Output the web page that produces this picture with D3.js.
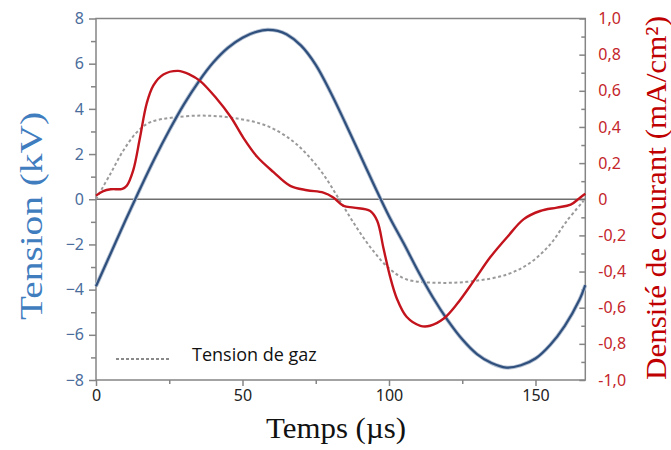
<!DOCTYPE html>
<html>
<head>
<meta charset="utf-8">
<script src="https://cdn.jsdelivr.net/npm/d3@7"></script>
<style>
    body { margin: 0; background: #fff; }
    svg { display: block; }
</style>
</head>
<body>
<div id="main-content-container"><svg></svg></div>
<script>
// Tension (kV), applied voltage
tensionTime = [0, 5, 10, 15, 20, 25, 30, 35, 40, 45, 50, 55, 58.5, 62, 65, 70, 75, 80, 85, 90, 95,
    100, 105, 110, 115, 120, 125, 130, 135, 140, 145, 150, 155, 160, 165, 167];
tensionValues = [-3.85, -2.4, -0.95, 0.45, 1.8, 3.05, 4.2, 5.2, 6.05, 6.7, 7.15, 7.42, 7.5, 7.45, 7.3,
    6.8, 5.95, 4.75, 3.4, 2.0, 0.6, -0.75, -1.95, -3.2, -4.35, -5.35, -6.2, -6.85, -7.25, -7.45,
    -7.35, -7.05, -6.45, -5.6, -4.45, -3.8];

// Densité de courant (mA/cm2)
currentTime = [0, 2.5, 5, 9, 10.5, 12.7, 15, 17.3, 19.6, 23, 28, 32, 35.5, 41, 46, 50.3, 55, 60.6,
    66.3, 72, 77.6, 81, 84.5, 88, 93.6, 96, 98.1, 100.4, 102.7, 106, 110.7, 114, 118.7, 123.2, 129,
    134.6, 140.3, 146, 151.6, 157.3, 162, 165.3, 167];
currentValues = [0.02, 0.045, 0.055, 0.058, 0.075, 0.16, 0.34, 0.53, 0.63, 0.69, 0.71, 0.69, 0.655,
    0.56, 0.455, 0.34, 0.235, 0.15, 0.074, 0.05, 0.037, 0.01, -0.037, -0.046, -0.065, -0.12, -0.27,
    -0.43, -0.55, -0.65, -0.70, -0.70, -0.66, -0.58, -0.45, -0.32, -0.21, -0.11, -0.065, -0.046,
    -0.03, 0.01, 0.03];

// Tension de gaz (kV)
gasTime = [0, 4.8, 9.3, 13.9, 18.4, 26.4, 37.8, 49.2, 58.3, 66.3, 71.9, 77.6, 83.3, 89, 94.7,
    100.4, 106.1, 117.5, 128.9, 140.3, 148.2, 155, 160.7, 166.4];
gasValues = [0, 1.1, 2.15, 2.96, 3.4, 3.62, 3.7, 3.55, 3.25, 2.66, 2.0, 1.1, -0.07, -1.26, -2.3,
    -3.1, -3.55, -3.7, -3.62, -3.33, -2.81, -2.0, -0.96, -0.07];

// ticks
timeTicks = [0, 50, 100, 150];
timeMinorTicks = [25, 75, 125];
tensionTicks = [8, 6, 4, 2, 0, -2, -4, -6, -8];
tensionMinorTicks = [7, 5, 3, 1, -1, -3, -5, -7];
currentTicks = [1.0, 0.8, 0.6, 0.4, 0.2, 0, -0.2, -0.4, -0.6, -0.8, -1.0];
currentTickLabels = ["1,0", "0,8", "0,6", "0,4", "0,2", "0", "-0,2", "-0,4", "-0,6", "-0,8", "-1,0"];
currentMinorTicks = [0.9, 0.7, 0.5, 0.3, 0.1, -0.1, -0.3, -0.5, -0.7, -0.9];

function buildChart() {
    let width = 671,
        height = 450;
    let left = 96, right = 585.3, top = 18.5, bottom = 380;

    let svg = d3.select("#main-content-container").select("svg")
        .attr("width", width)
        .attr("height", height);

    let x = d3.scaleLinear().domain([0, 167]).range([left, right]);
    let yKV = d3.scaleLinear().domain([-8, 8]).range([bottom, top]);
    let yJ = d3.scaleLinear().domain([-1, 1]).range([bottom, top]);

    let tickFont = "'Noto Sans', 'Open Sans', sans-serif";
    let axisGrey = "#858585";

    // bottom axis
    let gx = svg.append("g").attr("transform", "translate(0," + bottom + ")");
    gx.call(d3.axisBottom(x).tickValues(timeTicks).tickSize(6).tickPadding(4).tickFormat(d3.format("d")));
    gx.append("g").call(d3.axisBottom(x).tickValues(timeMinorTicks).tickSize(4).tickFormat(""));
    gx.selectAll(".domain").remove();
    gx.selectAll("line").attr("stroke", axisGrey).attr("stroke-width", 1.5);
    gx.selectAll("text").attr("fill", "#222").style("font-family", tickFont).style("font-size", "16px");

    // left axis
    let gl = svg.append("g").attr("transform", "translate(" + left + ",0)");
    gl.call(d3.axisLeft(yKV).tickValues(tensionTicks).tickSize(7).tickPadding(5).tickFormat(d3.format("d")));
    gl.append("g").call(d3.axisLeft(yKV).tickValues(tensionMinorTicks).tickSize(5).tickFormat(""));
    gl.selectAll(".domain").remove();
    gl.selectAll("line").attr("stroke", axisGrey).attr("stroke-width", 1.5);
    gl.selectAll("text").attr("fill", "#4b6d9c").style("font-family", tickFont).style("font-size", "16px");

    // right axis, ticks point inward
    let gr = svg.append("g").attr("transform", "translate(" + right + ",0)");
    gr.call(d3.axisRight(yJ).tickValues(currentTicks).tickSize(-6).tickPadding(13)
        .tickFormat((d, i) => currentTickLabels[i]));
    gr.append("g").call(d3.axisRight(yJ).tickValues(currentMinorTicks).tickSize(-4).tickFormat(""));
    gr.selectAll(".domain").remove();
    gr.selectAll("line").attr("stroke", axisGrey).attr("stroke-width", 1.5);
    gr.selectAll("text").attr("fill", "#c4262b").style("font-family", tickFont).style("font-size", "16px");

    // frame
    svg.append("rect")
        .attr("x", left).attr("y", top)
        .attr("width", right - left).attr("height", bottom - top)
        .attr("fill", "none")
        .attr("stroke", axisGrey)
        .attr("stroke-width", 1.5);

    // zero line
    svg.append("line")
        .attr("x1", left).attr("x2", right)
        .attr("y1", yKV(0)).attr("y2", yKV(0))
        .attr("stroke", "#6e6e6e")
        .attr("stroke-width", 1.5);

    let gasLine = d3.line().x((d, i) => x(gasTime[i])).y(d => yKV(d)).curve(d3.curveCatmullRom.alpha(0.5));
    let tensionLine = d3.line().x((d, i) => x(tensionTime[i])).y(d => yKV(d)).curve(d3.curveCatmullRom.alpha(0.5));
    let currentLine = d3.line().x((d, i) => x(currentTime[i])).y(d => yJ(d)).curve(d3.curveCatmullRom.alpha(0.5));

    svg.append("path")
        .attr("d", gasLine(gasValues))
        .attr("fill", "none")
        .attr("stroke", "#9a9a9a")
        .attr("stroke-width", 2)
        .attr("stroke-dasharray", "3,2.5");

    // soft halo under the voltage curve
    svg.append("path")
        .attr("d", tensionLine(tensionValues))
        .attr("fill", "none")
        .attr("stroke", "#b7c3d4")
        .attr("stroke-width", 4);
    svg.append("path")
        .attr("d", tensionLine(tensionValues))
        .attr("fill", "none")
        .attr("stroke", "#2f4f7d")
        .attr("stroke-width", 2.2);

    svg.append("path")
        .attr("d", currentLine(currentValues))
        .attr("fill", "none")
        .attr("stroke", "#c3141d")
        .attr("stroke-width", 2.4);

    // legend
    svg.append("line")
        .attr("x1", 116).attr("x2", 170)
        .attr("y1", 359).attr("y2", 359)
        .attr("stroke", "#8a8a8a")
        .attr("stroke-width", 1.8)
        .attr("stroke-dasharray", "3,2");
    svg.append("text")
        .attr("x", 192).attr("y", 361)
        .attr("fill", "#111")
        .style("font-family", "'Open Sans', sans-serif")
        .style("font-size", "18px")
        .text("Tension de gaz");

    // axis titles
    let serif = "'Liberation Serif', 'DejaVu Serif', serif";
    svg.append("text")
        .attr("transform", "translate(42,216) rotate(-90)")
        .attr("text-anchor", "middle")
        .attr("fill", "#3f7dbf")
        .style("font-family", serif)
        .style("font-size", "31px")
        .attr("textLength", 208)
        .attr("lengthAdjust", "spacingAndGlyphs")
        .text("Tension (kV)");

    svg.append("text")
        .attr("transform", "translate(666,198) rotate(-90)")
        .attr("text-anchor", "middle")
        .attr("fill", "#c00000")
        .style("font-family", serif)
        .style("font-size", "30px")
        .attr("textLength", 364)
        .attr("lengthAdjust", "spacingAndGlyphs")
        .text("Densité de courant (mA/cm²)");

    svg.append("text")
        .attr("x", 336).attr("y", 438)
        .attr("text-anchor", "middle")
        .attr("fill", "#111")
        .style("font-family", serif)
        .style("font-size", "29px")
        .attr("textLength", 140)
        .attr("lengthAdjust", "spacingAndGlyphs")
        .text("Temps (µs)");
}

buildChart();
</script>
</body>
</html>
